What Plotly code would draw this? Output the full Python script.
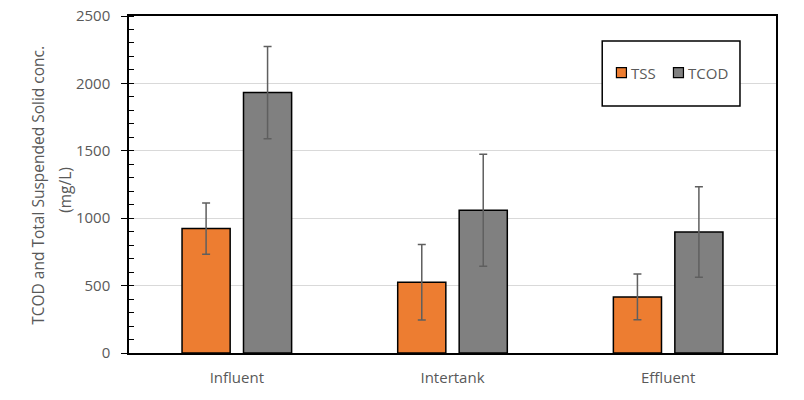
import plotly.graph_objects as go

sites = ["Influent", "Intertank", "Effluent"]
tss = [923, 524, 416]
tss_err = [190, 280, 170]
tcod = [1932, 1059, 898]
tcod_err = [342, 416, 336]

font = "Open Sans"
grey_txt = "#595959"
orange = "#ed7d31"
grey_bar = "#808080"

# plot area in pixels
X0, X1, Y0, Y1 = 129.3, 776.0, 16.0, 352.7


def px(x):
    return (x - X0) / (X1 - X0)


def py(y):
    return (Y1 - y) / (Y1 - Y0)


fig = go.Figure()
fig.add_trace(go.Bar(
    name="TSS", x=sites, y=tss,
    marker=dict(color=orange, line=dict(color="black", width=1.5)),
    error_y=dict(type="data", array=tss_err, color="#5f5f5f", thickness=1.5, width=4),
))
fig.add_trace(go.Bar(
    name="TCOD", x=sites, y=tcod,
    marker=dict(color=grey_bar, line=dict(color="black", width=1.5)),
    error_y=dict(type="data", array=tcod_err, color="#5f5f5f", thickness=1.5, width=4),
))

# legend drawn by hand so the swatches sit right against the text
shapes = [
    dict(type="rect", xref="paper", yref="paper",
         x0=px(602.3), x1=px(740), y0=py(106), y1=py(41),
         line=dict(color="black", width=1.5), fillcolor="white", layer="above"),
    dict(type="rect", xref="paper", yref="paper",
         x0=px(616.5), x1=px(626.5), y0=py(77.5), y1=py(67.5),
         line=dict(color="black", width=1.2), fillcolor=orange, layer="above"),
    dict(type="rect", xref="paper", yref="paper",
         x0=px(673.5), x1=px(683.5), y0=py(77.5), y1=py(67.5),
         line=dict(color="black", width=1.2), fillcolor=grey_bar, layer="above"),
]
annotations = [
    dict(text="TSS", x=px(629), y=py(73), xref="paper", yref="paper",
         xanchor="left", yanchor="middle", showarrow=False,
         font=dict(family=font, size=15, color=grey_txt)),
    dict(text="TCOD", x=px(686), y=py(73), xref="paper", yref="paper",
         xanchor="left", yanchor="middle", showarrow=False,
         font=dict(family=font, size=15, color=grey_txt)),
    dict(text="TCOD and Total Suspended Solid conc.", x=px(38), y=py(185),
         xref="paper", yref="paper", xanchor="center", yanchor="middle",
         textangle=-90, showarrow=False,
         font=dict(family=font, size=15.5, color=grey_txt)),
    dict(text="(mg/L)", x=px(65), y=py(190),
         xref="paper", yref="paper", xanchor="center", yanchor="middle",
         textangle=-90, showarrow=False,
         font=dict(family=font, size=15.5, color=grey_txt)),
]

fig.update_layout(
    width=804, height=400,
    margin=dict(l=X0, r=804 - X1, t=Y0, b=400 - Y1),
    plot_bgcolor="white", paper_bgcolor="white",
    barmode="group", bargap=0.43, bargroupgap=0.217,
    font=dict(family=font, size=15, color=grey_txt),
    showlegend=False,
    shapes=shapes, annotations=annotations,
    xaxis=dict(showline=True, linecolor="black", linewidth=1.5, mirror=True,
               ticks="", ticklabelstandoff=10, automargin=False,
               tickfont=dict(size=15, color=grey_txt)),
    yaxis=dict(range=[0, 2500], dtick=500, showline=True, linecolor="black",
               linewidth=1.5, mirror=True, automargin=False,
               ticks="outside", ticklen=6, tickcolor="black", ticklabelstandoff=8,
               minor=dict(dtick=100, ticks="inside", ticklen=5, tickcolor="black", showgrid=False),
               showgrid=True, gridcolor="#d9d9d9", gridwidth=1,
               zeroline=False,
               tickfont=dict(size=15, color=grey_txt)),
)

# drop the default 8px page margin so the figure sits at the window corner
fig.write_html("out.html", config={"displayModeBar": False},
               post_script="document.body.style.margin='0';")
